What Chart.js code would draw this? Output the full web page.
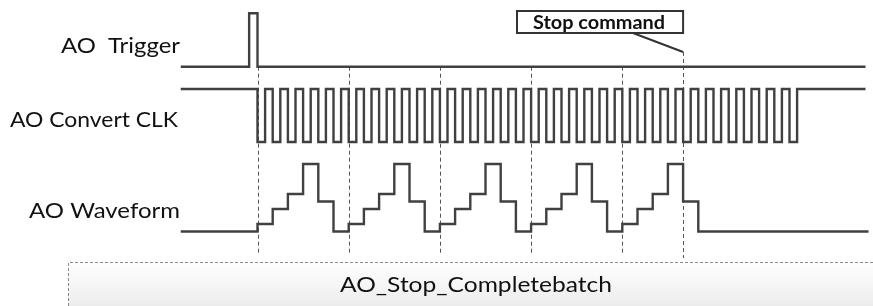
<!DOCTYPE html>
<html>
<head>
<meta charset="utf-8">
<script src="https://cdn.jsdelivr.net/npm/chart.js@4.4.0/dist/chart.umd.min.js"></script>
<style>
  html, body { margin: 0; padding: 0; background: #fff; }
  canvas { display: block; }
</style>
</head>
<body>
<canvas id="timingChart" width="873" height="306"></canvas>
<script>
// time is counted in AO convert clock cycles, 0 = trigger falling edge
const laneLabels = ['AO  Trigger', 'AO Convert CLK', 'AO Waveform'];

const triggerTimes  = [-5.05, -0.55, 0, 40];
const triggerLevels = [0, 1, 0, 0];

const clockTimes = [-5.05,
  0, 0.5, 1, 1.5, 2, 2.5, 3, 3.5, 4, 4.5, 5, 5.5,
  6, 6.5, 7, 7.5, 8, 8.5, 9, 9.5, 10, 10.5, 11, 11.5,
  12, 12.5, 13, 13.5, 14, 14.5, 15, 15.5, 16, 16.5, 17, 17.5,
  18, 18.5, 19, 19.5, 20, 20.5, 21, 21.5, 22, 22.5, 23, 23.5,
  24, 24.5, 25, 25.5, 26, 26.5, 27, 27.5, 28, 28.5, 29, 29.5,
  30, 30.5, 31, 31.5, 32, 32.5, 33, 33.5, 34, 34.5, 35, 35.5,
  40];
const clockLevels = [1,
  0, 1, 0, 1, 0, 1, 0, 1, 0, 1, 0, 1,
  0, 1, 0, 1, 0, 1, 0, 1, 0, 1, 0, 1,
  0, 1, 0, 1, 0, 1, 0, 1, 0, 1, 0, 1,
  0, 1, 0, 1, 0, 1, 0, 1, 0, 1, 0, 1,
  0, 1, 0, 1, 0, 1, 0, 1, 0, 1, 0, 1,
  0, 1, 0, 1, 0, 1, 0, 1, 0, 1, 0, 1,
  1];

const waveTimes = [-5.05,
  0, 1, 2, 3, 4, 5,
  6, 7, 8, 9, 10, 11,
  12, 13, 14, 15, 16, 17,
  18, 19, 20, 21, 22, 23,
  24, 25, 26, 27, 28, 29,
  40.2];
const waveLevels = [0,
  1, 3, 5, 9, 4, 0,
  1, 3, 5, 9, 4, 0,
  1, 3, 5, 9, 4, 0,
  1, 3, 5, 9, 4, 0,
  1, 3, 5, 9, 4, 0,
  0];

const batchStarts = [0, 6, 12, 18, 24];
const stopTime = 28;
const stopLabel = 'Stop command';
const modeLabel = 'AO_Stop_Completebatch';

// ---- layout ----
const W = 873, H = 306;
const cyclePx = 15.2, originPx = 257.5;
const ink = '#404040';

function toPoints(times, levels) {
    return times.map((t, i) => ({ x: t, y: levels[i] }));
}

// y axis whose value 0 lands on pxZero and value `top` lands on pxTop
function laneAxis(pxZero, pxTop, top) {
    const perUnit = (pxZero - pxTop) / top;
    const max = pxZero / perUnit;
    return { type: 'linear', display: false, min: max - H / perUnit, max: max };
}

function signal(label, data, axis) {
    return {
        label: label,
        data: data,
        yAxisID: axis,
        stepped: 'before',
        borderColor: ink,
        borderWidth: 2.4,
        pointRadius: 0,
        fill: false,
        borderJoinStyle: 'miter'
    };
}

function fitText(ctx, text, x, baseline, width, font, align) {
    ctx.font = font;
    const w = ctx.measureText(text).width;
    const k = width / w;
    ctx.save();
    let left = x;
    if (align === 'right') left = x - width;
    if (align === 'center') left = x - width / 2;
    ctx.translate(left, baseline);
    ctx.scale(k, 1);
    ctx.textAlign = 'left';
    ctx.textBaseline = 'alphabetic';
    ctx.fillText(text, 0, 0);
    ctx.restore();
}

const overlay = {
    id: 'overlay',
    beforeDatasetsDraw(chart) {
        const { ctx, scales } = chart;
        const x = scales.x;

        // mode box at the bottom
        ctx.save();
        const grad = ctx.createLinearGradient(0, 262, 0, H);
        grad.addColorStop(0, '#ffffff');
        grad.addColorStop(1, '#ececec');
        ctx.fillStyle = grad;
        ctx.fillRect(68, 262, W, H);
        ctx.strokeStyle = '#8a8a8a';
        ctx.lineWidth = 1;
        ctx.setLineDash([3, 2]);
        ctx.beginPath();
        ctx.moveTo(68.5, H);
        ctx.lineTo(68.5, 262.5);
        ctx.lineTo(W, 262.5);
        ctx.stroke();
        ctx.restore();

        // dashed guides at each batch start and at the stop command
        ctx.save();
        ctx.strokeStyle = '#555';
        ctx.lineWidth = 1;
        ctx.setLineDash([4, 3]);
        const yTop = scales.yTrig.getPixelForValue(0);
        batchStarts.forEach(t => {
            const px = Math.round(x.getPixelForValue(t)) + 0.5;
            ctx.beginPath();
            ctx.moveTo(px, yTop);
            ctx.lineTo(px, 255);
            ctx.stroke();
        });
        const sx = Math.round(x.getPixelForValue(stopTime)) + 0.5;
        ctx.beginPath();
        ctx.moveTo(sx, 52);
        ctx.lineTo(sx, 258);
        ctx.stroke();
        ctx.restore();
    },
    afterDatasetsDraw(chart) {
        const { ctx, scales } = chart;
        const sx = scales.x.getPixelForValue(stopTime);

        ctx.save();
        ctx.fillStyle = '#111';
        const font = '21px Lato, "Open Sans", sans-serif';
        fitText(ctx, laneLabels[0], 180, 52.5, 119, font, 'right');
        fitText(ctx, laneLabels[1], 178, 126.5, 168, font, 'right');
        fitText(ctx, laneLabels[2], 180, 218, 151, font, 'right');
        fitText(ctx, modeLabel, 476, 292, 272, font, 'center');

        // stop command callout
        ctx.fillStyle = '#fff';
        ctx.strokeStyle = '#333';
        ctx.lineWidth = 2;
        ctx.fillRect(517, 11, sx - 517, 22);
        ctx.strokeRect(517, 11, sx - 517, 22);
        ctx.beginPath();
        ctx.moveTo(633, 33);
        ctx.lineTo(sx, 52);
        ctx.stroke();
        ctx.fillStyle = '#111';
        fitText(ctx, stopLabel, 599, 29, 132, 'bold 18px Lato, "Open Sans", sans-serif', 'center');
        ctx.restore();
    }
};

new Chart(document.getElementById('timingChart'), {
    type: 'line',
    data: {
        datasets: [
            signal('AO Trigger', toPoints(triggerTimes, triggerLevels), 'yTrig'),
            signal('AO Convert CLK', toPoints(clockTimes, clockLevels), 'yClk'),
            signal('AO Waveform', toPoints(waveTimes, waveLevels), 'yWave')
        ]
    },
    options: {
        responsive: false,
        animation: false,
        layout: { padding: 0 },
        plugins: { legend: { display: false }, tooltip: { enabled: false } },
        scales: {
            x: { type: 'linear', display: false, min: -originPx / cyclePx, max: (W - originPx) / cyclePx },
            yTrig: laneAxis(66.7, 13.3, 1),
            yClk: laneAxis(142, 89, 1),
            yWave: laneAxis(231.5, 164, 9)
        }
    },
    plugins: [overlay]
});
</script>
</body>
</html>
